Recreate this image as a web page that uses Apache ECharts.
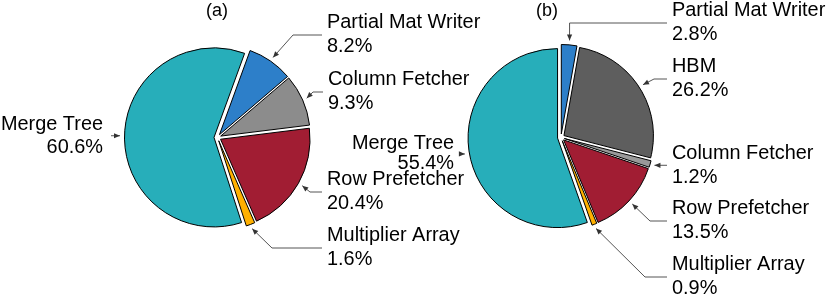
<!DOCTYPE html>
<html><head><meta charset="utf-8">
<script src="https://cdn.jsdelivr.net/npm/echarts@6/dist/echarts.min.js"></script>
<style>html,body{margin:0;padding:0;background:#fff}#c{width:830px;height:301px}</style>
</head><body><div id="c"></div>
<script>
// ---- data ----
const titles = ['(a)', '(b)'];
const namesA = ['Partial Mat Writer', 'Column Fetcher', 'Row Prefetcher', 'Multiplier Array', 'Merge Tree'];
const valuesA = [8.2, 9.3, 20.4, 1.6, 60.6];
const namesB = ['Partial Mat Writer', 'HBM', 'Column Fetcher', 'Row Prefetcher', 'Multiplier Array', 'Merge Tree'];
const valuesB = [2.8, 26.2, 1.2, 13.5, 0.9, 55.4];

// ---- styles / layout ----
const colorsA = ['#2D7FC9', '#8C8C8C', '#A11D33', '#FFB000', '#27AEBA'];
const colorsB = ['#2D7FC9', '#5E5E5E', '#999999', '#A11D33', '#FFB000', '#27AEBA'];
const FONT = 'Liberation Sans, Arial, sans-serif';
const LINE_COLOR = '#555555';
const RADIUS = 89.5, OFFSET = 3.5, TIP_R = 97.5;

const pies = [
  { cx: 217.5, cy: 137.5, start: 70, names: namesA, values: valuesA, colors: colorsA, titleX: 217,
    anchors: [
      { ax: 322, ay: 35, ex: 293 },
      { ax: 323, ay: 92, ex: 313 },
      { ax: 322, ay: 192, ex: 310 },
      { ax: 322, ay: 248, ex: 272 },
      { ax: 111, straight: true, left: true, lh: 23 }
    ] },
  { cx: 561, cy: 137.5, start: 90, names: namesB, values: valuesB, colors: colorsB, titleX: 547,
    anchors: [
      { ax: 667, ay: 23, ex: 'tip' },
      { ax: 667, ay: 79, ex: 654 },
      { ax: 667, straight: true },
      { ax: 667, ay: 221, ex: 650 },
      { ax: 667, ay: 277, ex: 645 },
      { ax: 462, straight: true, left: true, lh: 20 }
    ] }
];

// geometry of leader lines, derived from data values
function leaders(p) {
  const total = p.values.reduce((a, b) => a + b, 0);
  let cum = 0;
  return p.values.map((v, i) => {
    const th = ((90 - p.start) + 360 * (cum + v / 2) / total) * Math.PI / 180;
    cum += v;
    const tip = [p.cx + TIP_R * Math.sin(th), p.cy - TIP_R * Math.cos(th)];
    const a = p.anchors[i];
    const ay = a.straight ? tip[1] : a.ay;
    const pts = [tip];
    if (a.ex === 'tip') pts.push([tip[0], ay]);
    else if (a.ex != null) pts.push([a.ex, ay]);
    pts.push([a.ax, ay]);
    return { pts, a, ay };
  });
}

const series = [];
const graphic = [];
pies.forEach((p, si) => {
  const L = leaders(p);
  series.push({
    type: 'pie',
    center: [p.cx, p.cy],
    radius: [0, RADIUS],
    startAngle: p.start,
    clockwise: true,
    selectedMode: 'multiple',
    selectedOffset: OFFSET,
    avoidLabelOverlap: false,
    animation: false,
    itemStyle: { borderColor: '#000', borderWidth: 1 },
    select: { itemStyle: { borderColor: '#000', borderWidth: 1 } },
    emphasis: { disabled: true },
    label: { show: false },
    labelLine: { show: false },
    data: p.names.map((n, i) => ({
      name: n, value: p.values[i], selected: true,
      itemStyle: { color: p.colors[i] }
    }))
  });
  graphic.push({
    type: 'text', x: p.titleX, y: 11, silent: true,
    style: { text: titles[si], fontFamily: FONT, fontSize: 18, fill: '#000', align: 'center', verticalAlign: 'middle' }
  });
  L.forEach((l, i) => {
    const a = l.a;
    graphic.push({
      type: 'polyline', silent: true,
      shape: { points: l.pts },
      style: { stroke: LINE_COLOR, lineWidth: 1, fill: null }
    });
    const T = l.pts[0], P = l.pts[1];
    let ux = T[0] - P[0], uy = T[1] - P[1];
    const d = Math.hypot(ux, uy) || 1; ux /= d; uy /= d;
    const len = 6, hw = 2.6;
    graphic.push({
      type: 'polygon', silent: true,
      shape: { points: [T, [T[0] - len * ux - hw * uy, T[1] - len * uy + hw * ux], [T[0] - len * ux + hw * uy, T[1] - len * uy - hw * ux]] },
      style: { fill: '#333333' }
    });
    graphic.push({
      type: 'text', silent: true,
      x: a.left ? a.ax - 8 : a.ax + 5, y: l.ay,
      style: {
        text: p.names[i] + '\n' + p.values[i] + '%',
        fontFamily: FONT, fontSize: 19.9, fill: '#000',
        lineHeight: a.lh || 24,
        align: a.left ? 'right' : 'left', verticalAlign: 'middle'
      }
    });
  });
});

const chart = echarts.init(document.getElementById('c'), null, { renderer: 'canvas' });
chart.setOption({ backgroundColor: '#fff', animation: false, series, graphic });
</script>
</body></html>
